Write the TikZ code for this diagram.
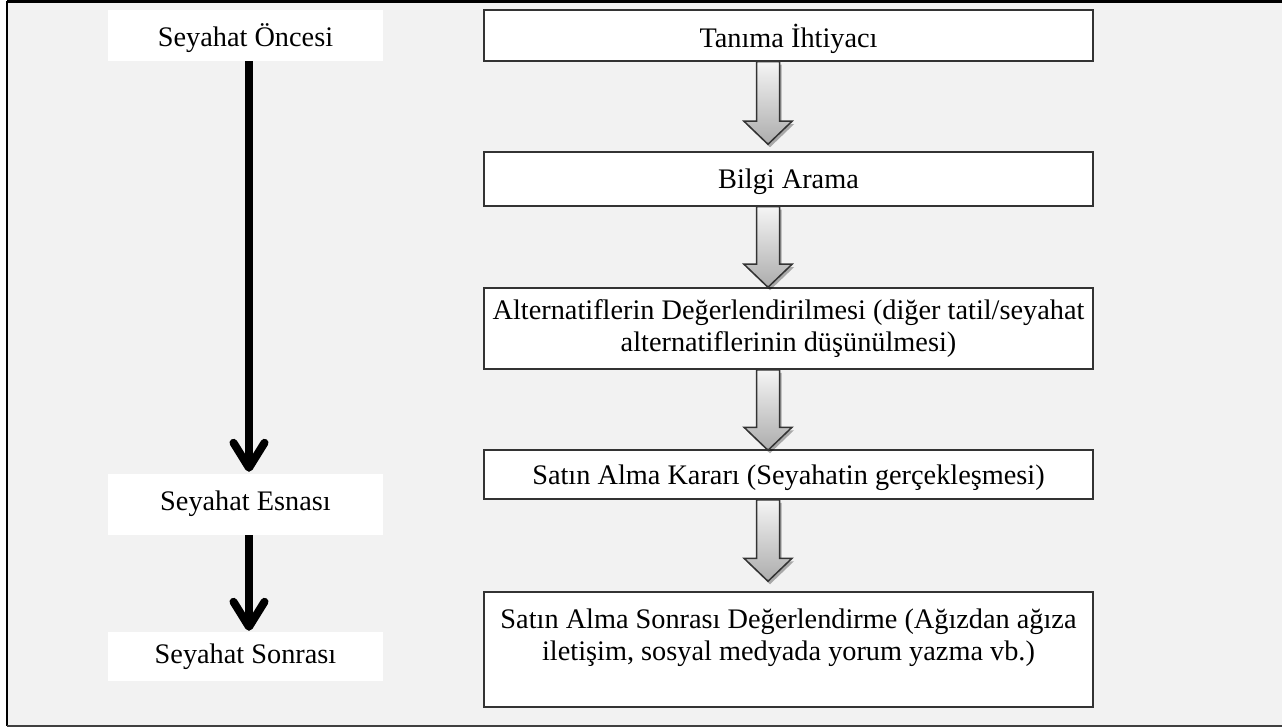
\documentclass[tikz,border=0pt]{standalone}
\usepackage{fontspec}
\setmainfont{Liberation Serif}
\usetikzlibrary{arrows.meta,calc,shadows}
\newcommand\blockarr[2]{%
  \path[blockarrow] let \p1=(#1), \p2=(#2) in
    (\x1-11.5pt,\y1) -- (\x1+11.5pt,\y1) -- (\x1+11.5pt,\y2+23pt) -- (\x1+24pt,\y2+23pt)
    -- (\x1,\y2) -- (\x1-24pt,\y2+23pt) -- (\x1-11.5pt,\y2+23pt) -- cycle;}
\begin{document}
\begin{tikzpicture}[x=1pt,y=-1pt,
  every node/.style={font=\fontsize{28.3}{32}\selectfont},
  stepbox/.style={draw=black!80, line width=1.5pt, fill=white, minimum width=609pt, inner sep=0pt, align=center},
  phasebox/.style={fill=white, minimum width=275pt, inner sep=0pt},
  fatarrow/.style={line width=8pt, -{Straight Barb[length=25pt,width=31pt,round]}},
  blockarrow/.style={draw=black!80, line width=1.5pt, line join=miter, top color=gray!8, bottom color=gray!65,
     drop shadow={shadow xshift=2pt, shadow yshift=-3pt, opacity=0.3, fill=black}}]
\useasboundingbox (0,0) rectangle (1282,727);
\fill[white] (0,0) rectangle (1282,727);
\fill[gray!10] (7,2) rectangle (1282,726);
\draw[line width=3pt] (1282,2) -- (7,2);
\draw[line width=2pt] (7,1) -- (7,726);
\draw[line width=1.5pt, black!75] (7,726) -- (1282,726);

% phase labels
\node[phasebox, minimum height=51pt, text depth=1pt] (l1) at (245.5,35.5) {Seyahat Öncesi};
\node[phasebox, minimum height=61pt, text depth=8pt] (l2) at (245.5,504.5) {Seyahat Esnası};
\node[phasebox, minimum height=49pt] (l3) at (245.5,656.5) {Seyahat Sonrası};

\coordinate (l1s) at ($(l1.south)+(3.5,0)$);
\coordinate (l2t) at ($(l2.north)+(3.5,-2)$);
\coordinate (l2s) at ($(l2.south)+(3.5,0)$);
\coordinate (l3t) at ($(l3.north)+(3.5,-1)$);
\draw[fatarrow] (l1s) -- (l2t);
\draw[fatarrow] (l2s) -- (l3t);

% step boxes
\node[stepbox, minimum height=51pt, text depth=0pt] (t1) at (788.5,35.5) {Tanıma İhtiyacı};
\node[stepbox, minimum height=54pt, text depth=1pt] (t2) at (788.5,179) {Bilgi Arama};
\node[stepbox, minimum height=81pt] (t3) at (788.5,328.5) {Alternatiflerin Değerlendirilmesi (diğer tatil/seyahat\\alternatiflerinin düşünülmesi)};
\node[stepbox, minimum height=49pt, text depth=0pt] (t4) at (788.5,474.5) {Satın Alma Kararı (Seyahatin gerçekleşmesi)};
\node[stepbox, minimum height=115pt] (t5) at (788.5,649.5) {};
\node[anchor=north, inner sep=0pt, align=center] (t5txt) at ($(t5.north)+(0,17)$) {Satın Alma Sonrası Değerlendirme (Ağızdan ağıza\\iletişim, sosyal medyada yorum yazma vb.)};

% block arrows
\coordinate (a1s) at ($(t1.south)+(-20.5,0)$);
\coordinate (a1t) at ($(t2.north)+(-20.5,-7)$);
\coordinate (a2s) at ($(t2.south)+(-20.5,0)$);
\coordinate (a2t) at ($(t3.north)+(-20.5,0)$);
\coordinate (a3s) at ($(t3.south)+(-20.5,0)$);
\coordinate (a3t) at ($(t4.north)+(-20.5,1)$);
\coordinate (a4s) at ($(t4.south)+(-20.5,0)$);
\coordinate (a4t) at ($(t5.north)+(-20.5,-10)$);
\blockarr{a1s}{a1t}
\blockarr{a2s}{a2t}
\blockarr{a3s}{a3t}
\blockarr{a4s}{a4t}
\end{tikzpicture}
\end{document}
